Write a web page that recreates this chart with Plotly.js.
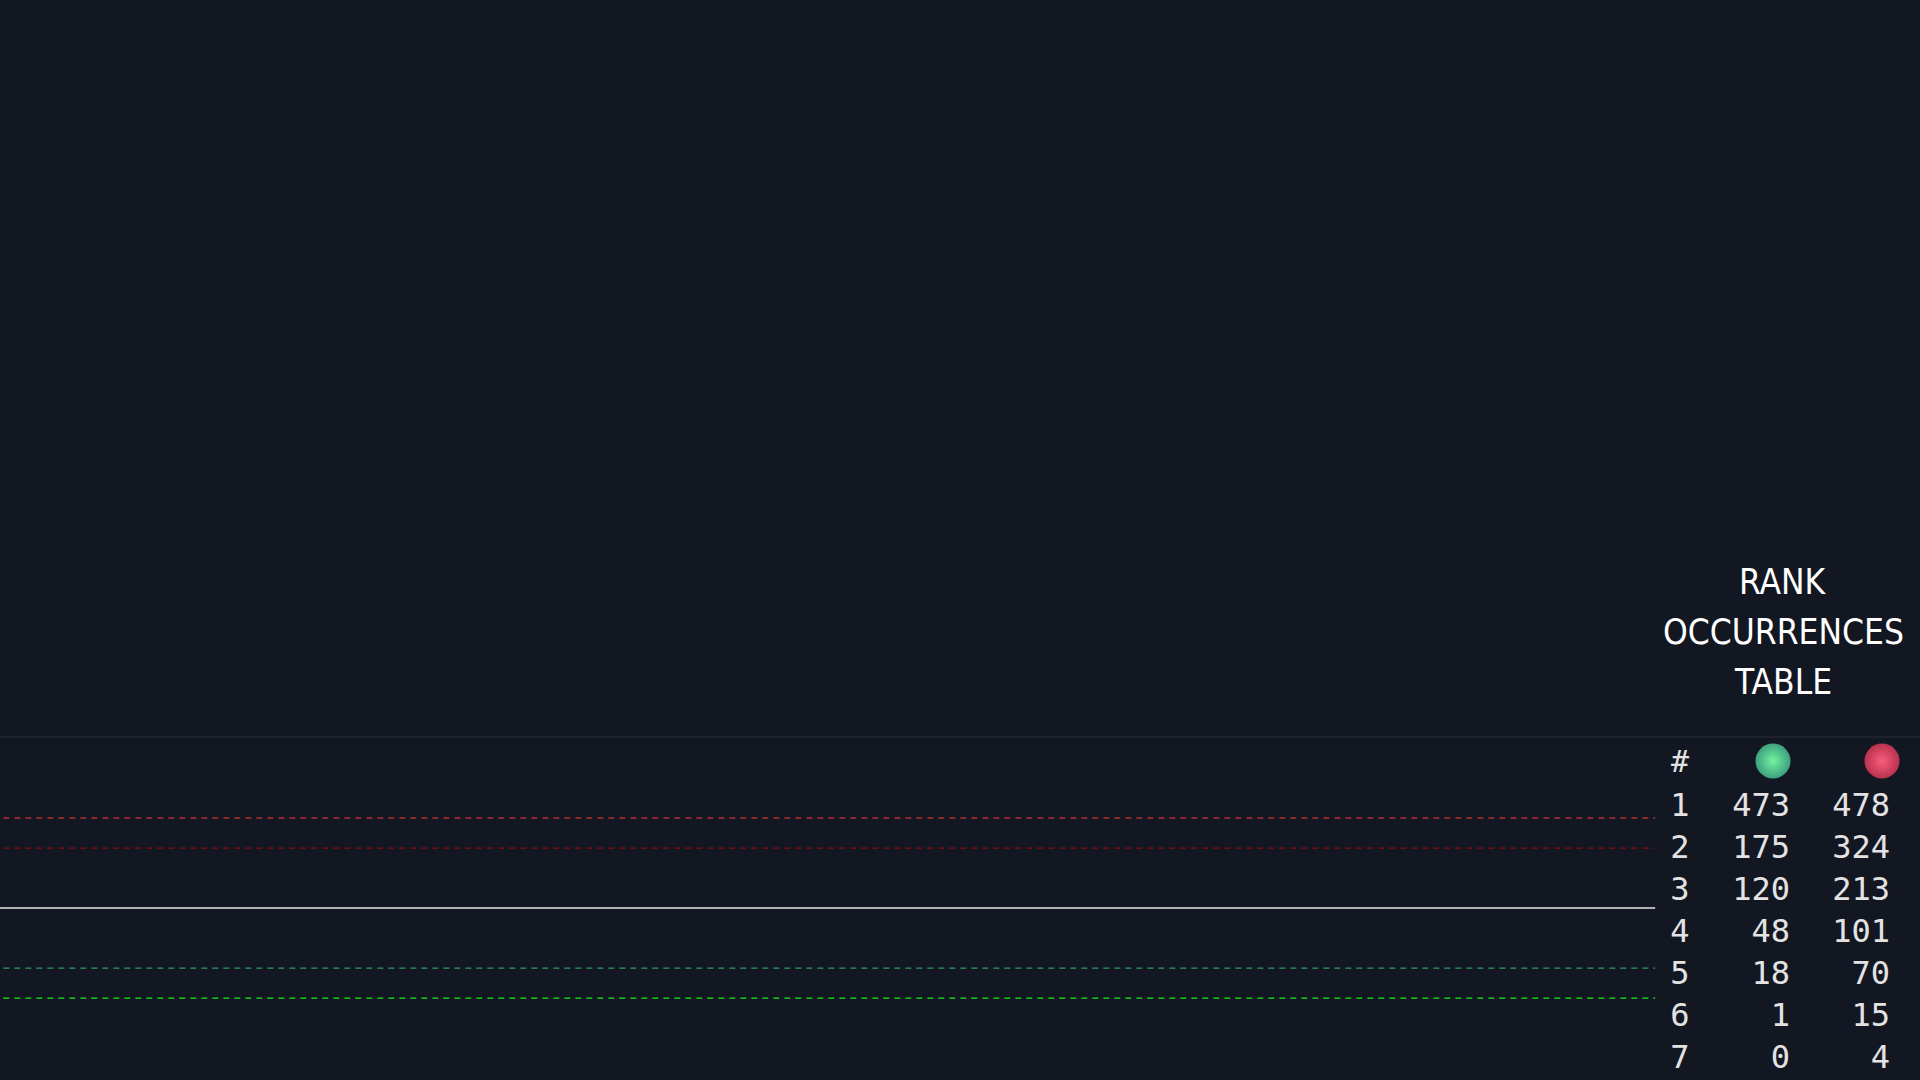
<!DOCTYPE html>
<html>
<head>
<meta charset="utf-8">
<script src="https://cdn.plot.ly/plotly-3.0.1.min.js"></script>
<style>
  html, body { margin: 0; padding: 0; background: #131722; }
  #chart { width: 1920px; height: 1080px; }
</style>
</head>
<body>
<div id="chart"></div>
<script>
// niveaux horizontaux du panneau du bas (en écarts-types)
const levelNames  = ['+3', '+2', '0', '-2', '-3'];
const levelValues = [3, 2, 0, -2, -3];
const levelColors = ['#ff3b3b', '#8b0d0d', '#e6e6e6', '#2e9e62', '#19f019'];
const levelDashes = ['6px,5px', '6px,5px', 'solid', '6px,5px', '6px,5px'];
const firstBar = 1;
const lastBar = 500;

// tableau des occurrences par rang
const ranks      = ['1', '2', '3', '4', '5', '6', '7'];
const greenCount = [473, 175, 120, 48, 18, 1, 0];
const redCount   = [478, 324, 213, 101, 70, 15, 4];
const titleLines = ['RANK', 'OCCURRENCES', 'TABLE'];

const textColor = '#e3e3e3';
const monoFont = 'DejaVu Sans Mono, monospace';

let data = [];

// une ligne par niveau, de la première à la dernière barre
for (let i = 0; i < levelValues.length; i++)
{
  let solid = levelDashes[i] === 'solid';
  data.push({
    name: levelNames[i],
    x: [solid ? 0 : firstBar, lastBar],
    y: [levelValues[i], levelValues[i]],
    type: 'scatter',
    mode: 'lines',
    line: { color: levelColors[i], width: solid ? 1.5 : 1.2, dash: levelDashes[i] },
    hoverinfo: 'skip',
    xaxis: 'x',
    yaxis: 'y'
  });
}

// positions du tableau (axes x2/y2 en pixels)
const rankX = 1680;
const greenX = 1790;
const redX = 1890;
const headerY = 764;
const rowY = ranks.map(function(r, i) { return 808 + i * 42; });

// en-tête: #, boule verte, boule rouge
data.push({
  x: [rankX], y: [headerY], text: ['#'],
  type: 'scatter', mode: 'text',
  textposition: 'middle center',
  textfont: { family: monoFont, size: 30, color: textColor },
  hoverinfo: 'skip', xaxis: 'x2', yaxis: 'y2'
});

// le dégradé radial va de gradient.color (centre) à marker.color (bord)
data.push({
  x: [1773, 1882], y: [761, 761],
  type: 'scatter', mode: 'markers',
  marker: {
    size: 35,
    color: ['#3ea07e', '#b9324e'],
    gradient: { type: 'radial', color: ['#74f2a0', '#fa5e7c'] },
    line: { width: 0 }
  },
  hoverinfo: 'skip', xaxis: 'x2', yaxis: 'y2'
});

// colonnes du tableau
data.push({
  x: ranks.map(function() { return rankX; }), y: rowY, text: ranks,
  type: 'scatter', mode: 'text',
  textposition: 'middle center',
  textfont: { family: monoFont, size: 32, color: textColor },
  hoverinfo: 'skip', xaxis: 'x2', yaxis: 'y2'
});

data.push({
  x: ranks.map(function() { return greenX; }), y: rowY, text: greenCount.map(String),
  type: 'scatter', mode: 'text',
  textposition: 'middle left',
  textfont: { family: monoFont, size: 32, color: textColor },
  hoverinfo: 'skip', xaxis: 'x2', yaxis: 'y2'
});

data.push({
  x: ranks.map(function() { return redX; }), y: rowY, text: redCount.map(String),
  type: 'scatter', mode: 'text',
  textposition: 'middle left',
  textfont: { family: monoFont, size: 32, color: textColor },
  hoverinfo: 'skip', xaxis: 'x2', yaxis: 'y2'
});

const paneTop = (1080 - 737) / 1080;

// titre du tableau, une annotation par ligne pour garder l'interligne
let titleAnnotations = titleLines.map(function(t, i)
{
  return {
    text: t,
    xref: 'x2', yref: 'y2',
    x: 1783, y: 582 + i * 50,
    xanchor: 'center', yanchor: 'middle',
    showarrow: false,
    font: { family: 'DejaVu Sans Condensed, Liberation Sans, sans-serif', size: 35, color: '#ffffff' }
  };
});

let layout =
{
  width: 1920,
  height: 1080,
  margin: { l: 0, r: 0, t: 0, b: 0 },
  paper_bgcolor: '#131722',
  plot_bgcolor: 'rgba(0,0,0,0)',
  showlegend: false,
  xaxis:
  {
    domain: [0, 1],
    range: [0, 580],
    visible: false,
    fixedrange: true
  },
  yaxis:
  {
    domain: [0, paneTop],
    range: [-5.73, 5.70],
    visible: false,
    fixedrange: true
  },
  xaxis2:
  {
    domain: [0, 1],
    range: [0, 1920],
    anchor: 'y2',
    visible: false,
    fixedrange: true
  },
  yaxis2:
  {
    domain: [0, 1],
    range: [1080, 0],
    anchor: 'x2',
    visible: false,
    fixedrange: true
  },
  shapes:
  [
    {
      type: 'line', xref: 'paper', yref: 'paper',
      x0: 0, x1: 1, y0: paneTop, y1: paneTop,
      line: { color: '#2a2e39', width: 1 }
    }
  ],
  annotations: titleAnnotations
};

Plotly.newPlot('chart', data, layout, { staticPlot: true, displayModeBar: false });
</script>
</body>
</html>
